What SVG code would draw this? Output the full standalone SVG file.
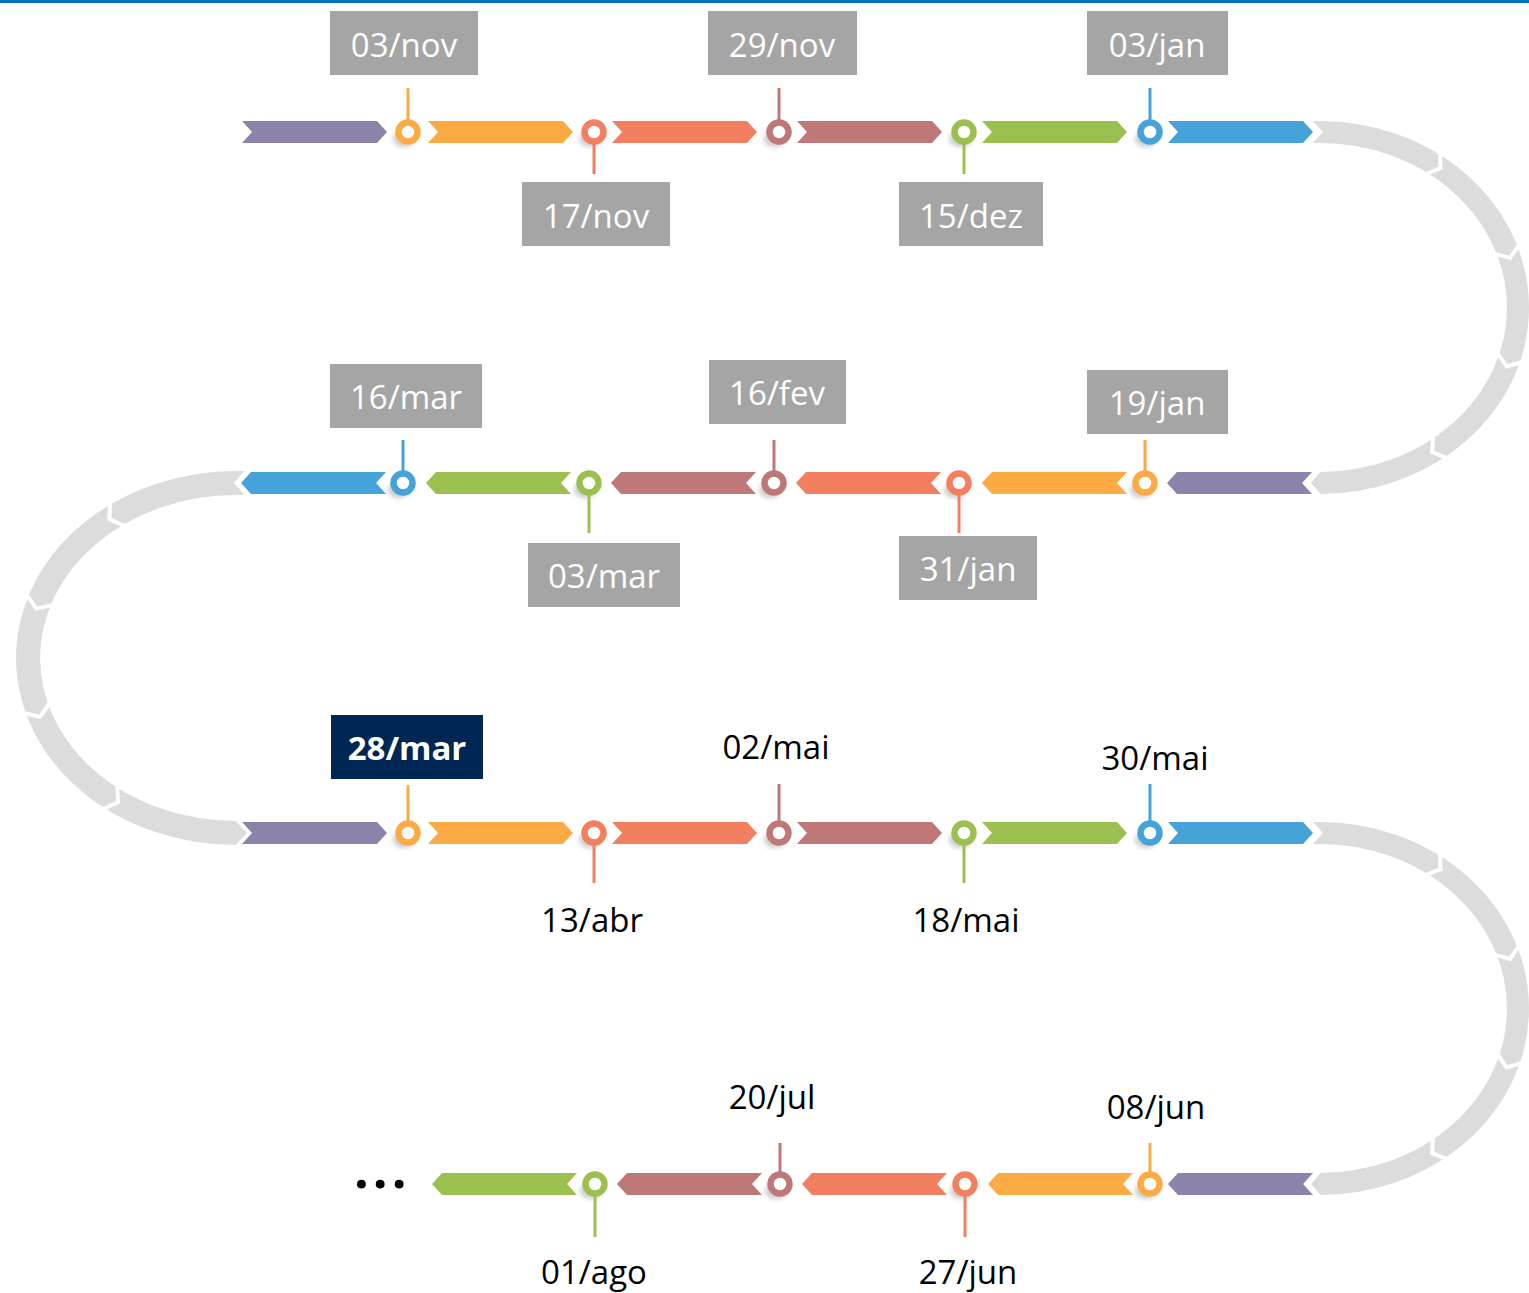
<svg xmlns="http://www.w3.org/2000/svg" width="1529" height="1293" viewBox="0 0 1529 1293">
<style>
.t{font-family:"Open Sans","Noto Sans","Liberation Sans",sans-serif;font-size:33px;text-anchor:middle}
.w{fill:#fff}
.k{fill:#000}
.b{font-weight:bold}
.box{fill:#A5A5A5}
.band{fill:none;stroke:#DCDCDC;stroke-width:22}
.gf{fill:#DCDCDC}
.cut{fill:none;stroke:#fff;stroke-width:4;stroke-linejoin:miter}
.wf{fill:#fff}
.ring{fill:#fff;stroke-width:6.5}
.stem{stroke-width:3}
.sh{fill:#000;opacity:.2}
.pu{fill:#8C82AA}.or{fill:#FBAA44}.re{fill:#F27F5F}.br{fill:#BD7877}.gr{fill:#9CC04F}.bl{fill:#45A3D9}
.spu{stroke:#8C82AA}.sor{stroke:#FBAA44}.sre{stroke:#F27F5F}.sbr{stroke:#BD7877}.sgr{stroke:#9CC04F}.sbl{stroke:#45A3D9}
</style>
<defs>
<path id="ar" d="M0,-11H135L145,0L135,11H0L10,0Z"/>
<path id="al" d="M0,0L10,-11H145L135,0L145,11H10Z"/>
<filter id="blur" x="-50%" y="-50%" width="200%" height="200%"><feGaussianBlur stdDeviation="2.5"/></filter>
<g id="rcurve">
<path class="band" d="M1320,132 A198,175.5 0 0 1 1320,483"/>
<rect class="gf" x="1313" y="121" width="9" height="22"/>
<polygon class="wf" points="1311,119 1323,132 1311,145"/>
<polygon class="gf" points="1320.5,472 1311,483 1320.5,494"/>
<polyline class="cut" points="1439.8,151 1440.6,168.2 1424.6,174.6"/>
<polyline class="cut" points="1519.7,243.8 1510,258 1493.4,253.4"/>
<polyline class="cut" points="1523.2,361.8 1506.6,366.4 1496.9,352.2"/>
<polyline class="cut" points="1448.2,458.6 1432.2,452.2 1433,435"/>
</g>
</defs>

<rect x="0" y="0" width="1529" height="3" fill="#0070C0"/>

<g id="connectors">
<use href="#rcurve"/>
<use href="#rcurve" transform="translate(0,701)"/>
<g id="lcurve">
<path class="band" style="stroke-width:24" d="M236,483 A208,175 0 0 0 236,833"/>
<rect class="gf" x="235" y="471" width="10" height="24"/>
<polygon class="wf" points="246,469 234,483 246,497"/>
<polygon class="gf" points="235.5,821 247,833 235.5,845"/>
<polyline class="cut" points="110.1,501 109.4,519 125.8,526.6"/>
<polyline class="cut" points="26,593.8 36.4,608.6 54,604.6"/>
<polyline class="cut" points="22.4,712.8 40,716.8 50.4,702"/>
<polyline class="cut" points="101.6,809.8 118,802.2 117.3,784.2"/>
</g>
<g id="row1-arrows">
<use href="#ar" class="pu" transform="translate(242,132)"/>
<use href="#ar" class="or" transform="translate(428,132)"/>
<use href="#ar" class="re" transform="translate(612,132)"/>
<use href="#ar" class="br" transform="translate(797,132)"/>
<use href="#ar" class="gr" transform="translate(982,132)"/>
<use href="#ar" class="bl" transform="translate(1168,132)"/>
</g>
<g id="row2-arrows">
<use href="#al" class="pu" transform="translate(1167,483)"/>
<use href="#al" class="or" transform="translate(982,483)"/>
<use href="#al" class="re" transform="translate(796,483)"/>
<use href="#al" class="br" transform="translate(611,483)"/>
<use href="#al" class="gr" transform="translate(426,483)"/>
<use href="#al" class="bl" transform="translate(241,483)"/>
</g>
<g id="row3-arrows">
<use href="#ar" class="pu" transform="translate(242,833)"/>
<use href="#ar" class="or" transform="translate(428,833)"/>
<use href="#ar" class="re" transform="translate(612,833)"/>
<use href="#ar" class="br" transform="translate(797,833)"/>
<use href="#ar" class="gr" transform="translate(982,833)"/>
<use href="#ar" class="bl" transform="translate(1168,833)"/>
</g>
<g id="row4-arrows">
<use href="#al" class="pu" transform="translate(1168,1184)"/>
<use href="#al" class="or" transform="translate(988,1184)"/>
<use href="#al" class="re" transform="translate(802,1184)"/>
<use href="#al" class="br" transform="translate(617,1184)"/>
<use href="#al" class="gr" transform="translate(432,1184)"/>
</g>
</g>

<!-- Row 1 -->
<g id="n-03nov">
<ellipse class="sh" cx="404" cy="139" rx="11" ry="8" filter="url(#blur)"/>
<line class="stem sor" x1="408" y1="88" x2="408" y2="120"/>
<circle class="ring sor" cx="408" cy="132" r="9.5"/>
<rect class="box" x="330" y="11" width="148" height="64"/>
<text class="t w" x="404" y="57">03/nov</text>
</g>
<g id="n-17nov">
<ellipse class="sh" cx="590" cy="139" rx="11" ry="8" filter="url(#blur)"/>
<line class="stem sre" x1="594" y1="144" x2="594" y2="174"/>
<circle class="ring sre" cx="594" cy="132" r="9.5"/>
<rect class="box" x="522" y="182" width="148" height="64"/>
<text class="t w" x="596" y="228">17/nov</text>
</g>
<g id="n-29nov">
<ellipse class="sh" cx="775" cy="139" rx="11" ry="8" filter="url(#blur)"/>
<line class="stem sbr" x1="779" y1="88" x2="779" y2="120"/>
<circle class="ring sbr" cx="779" cy="132" r="9.5"/>
<rect class="box" x="708" y="11" width="149" height="64"/>
<text class="t w" x="782" y="57">29/nov</text>
</g>
<g id="n-15dez">
<ellipse class="sh" cx="960" cy="139" rx="11" ry="8" filter="url(#blur)"/>
<line class="stem sgr" x1="964" y1="144" x2="964" y2="174"/>
<circle class="ring sgr" cx="964" cy="132" r="9.5"/>
<rect class="box" x="899" y="182" width="144" height="64"/>
<text class="t w" x="971" y="228">15/dez</text>
</g>
<g id="n-03jan">
<ellipse class="sh" cx="1146" cy="139" rx="11" ry="8" filter="url(#blur)"/>
<line class="stem sbl" x1="1150" y1="88" x2="1150" y2="120"/>
<circle class="ring sbl" cx="1150" cy="132" r="9.5"/>
<rect class="box" x="1087" y="11" width="141" height="64"/>
<text class="t w" x="1157" y="57">03/jan</text>
</g>

<!-- Row 2 -->
<g id="n-19jan">
<ellipse class="sh" cx="1141" cy="490" rx="11" ry="8" filter="url(#blur)"/>
<line class="stem sor" x1="1145" y1="440" x2="1145" y2="471"/>
<circle class="ring sor" cx="1145" cy="483" r="9.5"/>
<rect class="box" x="1087" y="370" width="141" height="64"/>
<text class="t w" x="1157" y="415">19/jan</text>
</g>
<g id="n-31jan">
<ellipse class="sh" cx="955" cy="490" rx="11" ry="8" filter="url(#blur)"/>
<line class="stem sre" x1="959" y1="495" x2="959" y2="533"/>
<circle class="ring sre" cx="959" cy="483" r="9.5"/>
<rect class="box" x="899" y="536" width="138" height="64"/>
<text class="t w" x="968" y="581">31/jan</text>
</g>
<g id="n-16fev">
<ellipse class="sh" cx="770" cy="490" rx="11" ry="8" filter="url(#blur)"/>
<line class="stem sbr" x1="774" y1="440" x2="774" y2="471"/>
<circle class="ring sbr" cx="774" cy="483" r="9.5"/>
<rect class="box" x="709" y="360" width="137" height="64"/>
<text class="t w" x="777" y="405">16/fev</text>
</g>
<g id="n-03mar">
<ellipse class="sh" cx="585" cy="490" rx="11" ry="8" filter="url(#blur)"/>
<line class="stem sgr" x1="589" y1="495" x2="589" y2="533"/>
<circle class="ring sgr" cx="589" cy="483" r="9.5"/>
<rect class="box" x="528" y="543" width="152" height="64"/>
<text class="t w" x="604" y="588">03/mar</text>
</g>
<g id="n-16mar">
<ellipse class="sh" cx="399" cy="490" rx="11" ry="8" filter="url(#blur)"/>
<line class="stem sbl" x1="403" y1="440" x2="403" y2="471"/>
<circle class="ring sbl" cx="403" cy="483" r="9.5"/>
<rect class="box" x="330" y="364" width="152" height="64"/>
<text class="t w" x="406" y="409">16/mar</text>
</g>

<!-- Row 3 -->
<g id="n-28mar">
<ellipse class="sh" cx="404" cy="840" rx="11" ry="8" filter="url(#blur)"/>
<line class="stem sor" x1="408" y1="785" x2="408" y2="821"/>
<circle class="ring sor" cx="408" cy="833" r="9.5"/>
<rect x="331" y="715" width="152" height="64" fill="#002753"/>
<text class="t w b" x="407" y="760">28/mar</text>
</g>
<g id="n-13abr">
<ellipse class="sh" cx="590" cy="840" rx="11" ry="8" filter="url(#blur)"/>
<line class="stem sre" x1="594" y1="845" x2="594" y2="883"/>
<circle class="ring sre" cx="594" cy="833" r="9.5"/>
<text class="t k" x="592" y="932">13/abr</text>
</g>
<g id="n-02mai">
<ellipse class="sh" cx="775" cy="840" rx="11" ry="8" filter="url(#blur)"/>
<line class="stem sbr" x1="779" y1="784" x2="779" y2="821"/>
<circle class="ring sbr" cx="779" cy="833" r="9.5"/>
<text class="t k" x="776" y="759">02/mai</text>
</g>
<g id="n-18mai">
<ellipse class="sh" cx="960" cy="840" rx="11" ry="8" filter="url(#blur)"/>
<line class="stem sgr" x1="964" y1="845" x2="964" y2="883"/>
<circle class="ring sgr" cx="964" cy="833" r="9.5"/>
<text class="t k" x="966" y="932">18/mai</text>
</g>
<g id="n-30mai">
<ellipse class="sh" cx="1146" cy="840" rx="11" ry="8" filter="url(#blur)"/>
<line class="stem sbl" x1="1150" y1="784" x2="1150" y2="821"/>
<circle class="ring sbl" cx="1150" cy="833" r="9.5"/>
<text class="t k" x="1155" y="770">30/mai</text>
</g>

<!-- Row 4 -->
<g id="n-08jun">
<ellipse class="sh" cx="1146" cy="1191" rx="11" ry="8" filter="url(#blur)"/>
<line class="stem sor" x1="1150" y1="1143" x2="1150" y2="1172"/>
<circle class="ring sor" cx="1150" cy="1184" r="9.5"/>
<text class="t k" x="1156" y="1119">08/jun</text>
</g>
<g id="n-27jun">
<ellipse class="sh" cx="961" cy="1191" rx="11" ry="8" filter="url(#blur)"/>
<line class="stem sre" x1="965" y1="1196" x2="965" y2="1237"/>
<circle class="ring sre" cx="965" cy="1184" r="9.5"/>
<text class="t k" x="968" y="1284">27/jun</text>
</g>
<g id="n-20jul">
<ellipse class="sh" cx="776" cy="1191" rx="11" ry="8" filter="url(#blur)"/>
<line class="stem sbr" x1="780" y1="1143" x2="780" y2="1172"/>
<circle class="ring sbr" cx="780" cy="1184" r="9.5"/>
<text class="t k" x="772" y="1109">20/jul</text>
</g>
<g id="n-01ago">
<ellipse class="sh" cx="591" cy="1191" rx="11" ry="8" filter="url(#blur)"/>
<line class="stem sgr" x1="595" y1="1196" x2="595" y2="1237"/>
<circle class="ring sgr" cx="595" cy="1184" r="9.5"/>
<text class="t k" x="594" y="1284">01/ago</text>
</g>
<text x="354" y="1188" font-family="'Open Sans','Noto Sans',sans-serif" font-size="52" font-weight="bold" letter-spacing="4" fill="#000">...</text>
</svg>
